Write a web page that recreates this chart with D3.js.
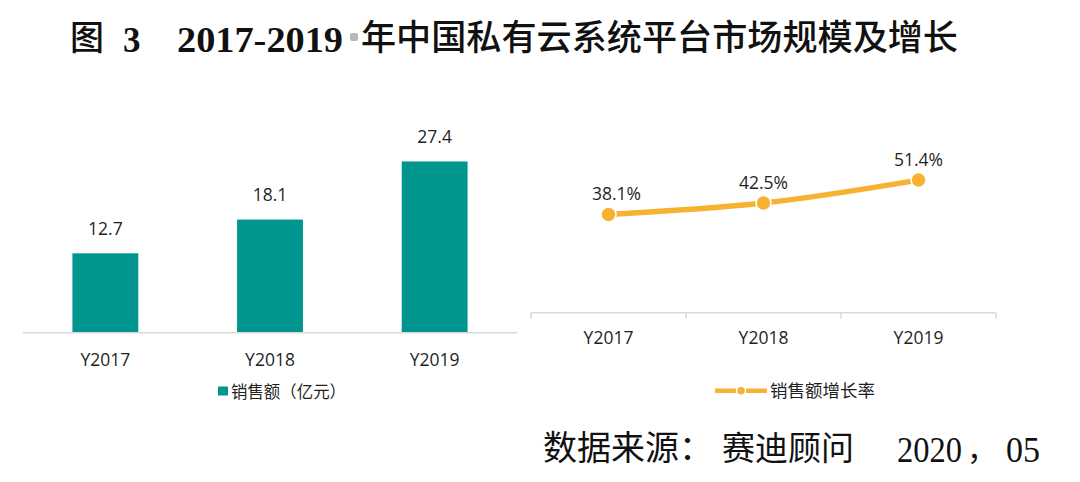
<!DOCTYPE html>
<html><head><meta charset="utf-8">
<script src="https://cdn.jsdelivr.net/npm/d3@7"></script>
<style>
body{margin:0;background:#fff;}
svg{display:block;}
</style></head>
<body>
<svg id="c" width="1080" height="482"></svg>
<script>
const years = ["Y2017","Y2018","Y2019"];
const sales = [12.7, 18.1, 27.4];
const growth = [38.1, 42.5, 51.4];
const salesLegend = "销售额（亿元）";
const growthLegend = "销售额增长率";
const titleParts = ["图","3","2017-2019","年中国私有云系统平台市场规模及增长"];
const sourceParts = ["数据来源：","赛迪顾问","2020","，","05"];

const TEAL = "#00968F", ORANGE = "#F7B232", AXIS = "#D9D9D9", TXT = "#1f1f1f";
const LAT = "'Open Sans','Noto Sans CJK SC',sans-serif";
const CJK = "'Noto Sans CJK SC',sans-serif";
const SERIF = "'Liberation Serif','Noto Sans CJK SC',serif";

const svg = d3.select("#c");

// Title
const t = svg.append("g").attr("fill","#111");
t.append("text").attr("x",70).attr("y",50).style("font-family",CJK).style("font-size","34px").style("font-weight","500").text(titleParts[0]);
t.append("text").attr("x",123).attr("y",51.5).style("font-family",SERIF).style("font-size","35px").style("font-weight","bold").text(titleParts[1]);
t.append("text").attr("x",177).attr("y",51.5).style("font-family",SERIF).style("font-size","35px").style("font-weight","bold")
  .attr("textLength",166).attr("lengthAdjust","spacingAndGlyphs").text(titleParts[2]);
t.append("rect").attr("x",350).attr("y",33).attr("width",8).attr("height",8).attr("rx",2).attr("fill","#b8b8b8");
t.append("text").attr("x",361).attr("y",50).style("font-family",CJK).style("font-size","35px").style("font-weight","500")
  .attr("textLength",597).attr("lengthAdjust","spacingAndGlyphs").text(titleParts[3]);

// Source
const s = svg.append("g").attr("fill","#111");
s.append("text").attr("x",543).attr("y",460).style("font-family",CJK).style("font-size","34px").text(sourceParts[0]);
s.append("text").attr("x",722).attr("y",460).style("font-family",CJK).style("font-size","33px").text(sourceParts[1]);
s.append("text").attr("x",897).attr("y",461.5).style("font-family",SERIF).style("font-size","36px")
  .attr("textLength",65).attr("lengthAdjust","spacingAndGlyphs").text(sourceParts[2]);
s.append("text").attr("x",967).attr("y",460).style("font-family",CJK).style("font-size","30px").text(sourceParts[3]);
s.append("text").attr("x",1006).attr("y",461.5).style("font-family",SERIF).style("font-size","36px")
  .attr("textLength",34).attr("lengthAdjust","spacingAndGlyphs").text(sourceParts[4]);

// ---------- Left bar chart ----------
const xL = d3.scaleBand().domain(years).range([23,517]).padding(0);
const yL = d3.scaleLinear().domain([0,30]).range([332.7,145.2]);
const bw = xL.bandwidth()*0.4;
const left = svg.append("g");
left.selectAll("rect.bar").data(sales).join("rect").attr("class","bar")
  .attr("x",(d,i)=>xL(years[i])+xL.bandwidth()/2-bw/2)
  .attr("y",d=>yL(d)).attr("width",bw).attr("height",d=>yL(0)-yL(d)).attr("fill",TEAL);
left.selectAll("text.val").data(sales).join("text").attr("class","val")
  .attr("x",(d,i)=>xL(years[i])+xL.bandwidth()/2).attr("y",d=>yL(d)-18.5)
  .attr("text-anchor","middle").style("font-family",LAT).style("font-size","17.5px").attr("fill",TXT)
  .text(d=>d.toFixed(1));
const axL = left.append("g").attr("transform",`translate(0,${yL(0)})`)
  .call(d3.axisBottom(xL).tickSize(0).tickPadding(0));
axL.select(".domain").attr("stroke",AXIS).attr("stroke-width",1.5).attr("d",`M${xL.range()[0]},0H${xL.range()[1]}`);
axL.selectAll("text").attr("dy",null).attr("y",33).style("font-family",LAT).style("font-size","17.5px").attr("fill",TXT);
// legend
const lgL = left.append("g");
lgL.append("rect").attr("x",218).attr("y",386.5).attr("width",10).attr("height",9).attr("fill",TEAL);
lgL.append("text").attr("x",231).attr("y",397.5).style("font-family",CJK).style("font-size","16.5px").attr("fill",TXT)
  .attr("textLength",115).attr("lengthAdjust","spacingAndGlyphs").text(salesLegend);

// ---------- Right line chart ----------
const xR = d3.scaleBand().domain(years).range([531,996]).padding(0);
const yR = d3.scaleLinear().domain([0,60]).range([312.7,157.9]);
const right = svg.append("g");
const axR = right.append("g").attr("transform",`translate(0,${yR(0)})`)
  .call(d3.axisBottom(xR).tickSize(0).tickPadding(0));
axR.select(".domain").attr("stroke",AXIS).attr("stroke-width",1.5).attr("d",`M${xR.range()[0]},0H${xR.range()[1]}`);
axR.selectAll("text").attr("dy",null).attr("y",31.3).style("font-family",LAT).style("font-size","17.5px").attr("fill",TXT);
const bounds = years.map(y=>xR(y)).concat([xR.range()[1]]);
axR.selectAll("line.bt").data(bounds).join("line").attr("class","bt")
  .attr("x1",d=>d).attr("x2",d=>d).attr("y1",0).attr("y2",6).attr("stroke",AXIS).attr("stroke-width",1.5);

const pts = growth.map((v,i)=>[xR(years[i])+xR.bandwidth()/2, yR(v)]);
right.append("path").attr("d",d3.line().curve(d3.curveMonotoneX)(pts))
  .attr("fill","none").attr("stroke",ORANGE).attr("stroke-width",5.5).attr("stroke-linecap","round");
right.selectAll("circle.pt").data(pts).join("circle").attr("class","pt")
  .attr("cx",d=>d[0]).attr("cy",d=>d[1]).attr("r",7.5).attr("fill",ORANGE).attr("stroke","#fff").attr("stroke-width",1.5);
right.selectAll("text.val").data(growth).join("text").attr("class","val")
  .attr("x",(d,i)=>pts[i][0]+(i===0?8:0)).attr("y",(d,i)=>pts[i][1]-14)
  .attr("text-anchor","middle").style("font-family",LAT).style("font-size","17.5px").attr("fill",TXT)
  .text(d=>d.toFixed(1)+"%");
// legend
const lgR = right.append("g");
lgR.append("line").attr("x1",715).attr("x2",767).attr("y1",390.7).attr("y2",390.7).attr("stroke",ORANGE).attr("stroke-width",4.5);
lgR.append("circle").attr("cx",741).attr("cy",390.7).attr("r",4.5).attr("fill",ORANGE).attr("stroke","#fff").attr("stroke-width",1.5);
lgR.append("text").attr("x",770).attr("y",397).style("font-family",CJK).style("font-size","17.5px").attr("fill",TXT).text(growthLegend);
</script>
</body></html>
